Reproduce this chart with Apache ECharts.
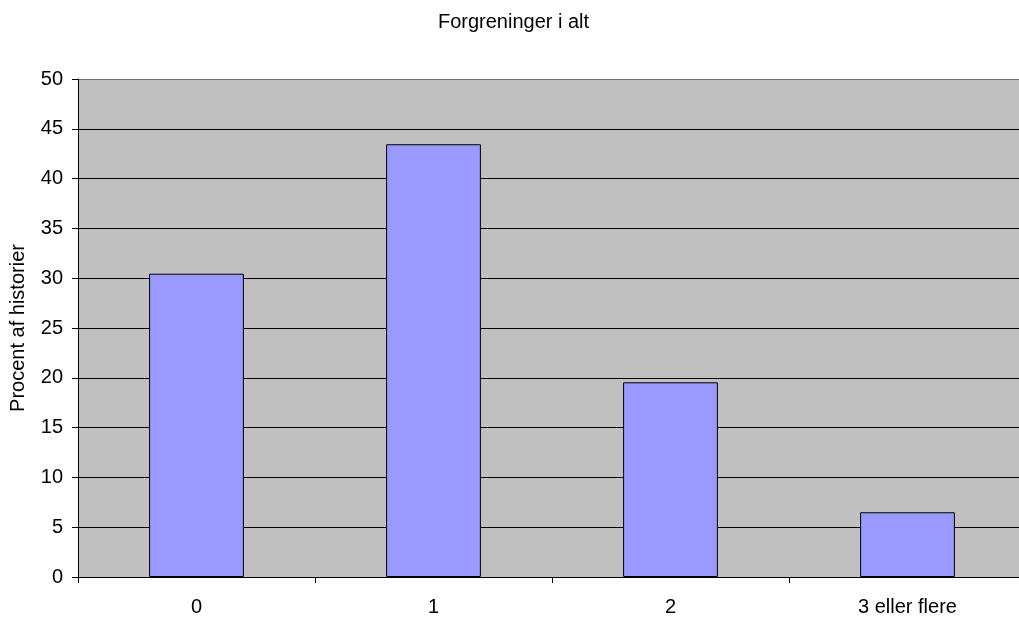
<!DOCTYPE html>
<html><head><meta charset="utf-8">
<script src="https://cdn.jsdelivr.net/npm/echarts@6/dist/echarts.min.js"></script>
<style>html,body{margin:0;padding:0;background:#fff;overflow:hidden}#c{width:1027px;height:617px}</style>
</head><body><div id="c"></div>
<script>
const categories = ['0', '1', '2', '3 eller flere'];
const values = [30.45, 43.45, 19.55, 6.5];
const yTicks = [0, 5, 10, 15, 20, 25, 30, 35, 40, 45, 50];
const gridColors = yTicks.map((t, i) => i === yTicks.length - 1 ? '#707070' : '#000000');
const chart = echarts.init(document.getElementById('c'), null, {renderer: 'canvas'});
chart.setOption({
  animation: false,
  backgroundColor: '#ffffff',
  title: {
    text: 'Forgreninger i alt', left: 'center', top: 7,
    textStyle: {fontFamily: 'Liberation Sans, Arial', fontSize: 20, fontWeight: 'normal', color: '#000'}
  },
  grid: {left: 76, right: 1, top: 79, bottom: 40, backgroundColor: '#c0c0c0', show: true, borderWidth: 0},
  xAxis: {
    type: 'category', data: categories,
    axisLine: {lineStyle: {color: '#000', width: 1}},
    axisTick: {show: true, alignWithLabel: false, length: 6, lineStyle: {color: '#000'}},
    axisLabel: {fontFamily: 'Liberation Sans, Arial', fontSize: 20, color: '#000', margin: 20}
  },
  yAxis: {
    type: 'value', min: yTicks[0], max: yTicks[yTicks.length - 1], interval: 5,
    name: 'Procent af historier', nameLocation: 'middle', nameGap: 50,
    nameTextStyle: {fontFamily: 'Liberation Sans, Arial', fontSize: 20, color: '#000'},
    axisLine: {show: true, lineStyle: {color: '#000'}},
    axisTick: {show: true, length: 6, lineStyle: {color: '#000'}},
    axisLabel: {fontFamily: 'Liberation Sans, Arial', fontSize: 20, color: '#000', margin: 15},
    splitLine: {show: true, lineStyle: {color: gridColors, width: 1}}
  },
  series: [{
    type: 'bar', data: values, barCategoryGap: '60%',
    itemStyle: {color: '#9999ff', borderColor: '#000', borderWidth: 1}
  }]
});
</script></body></html>
